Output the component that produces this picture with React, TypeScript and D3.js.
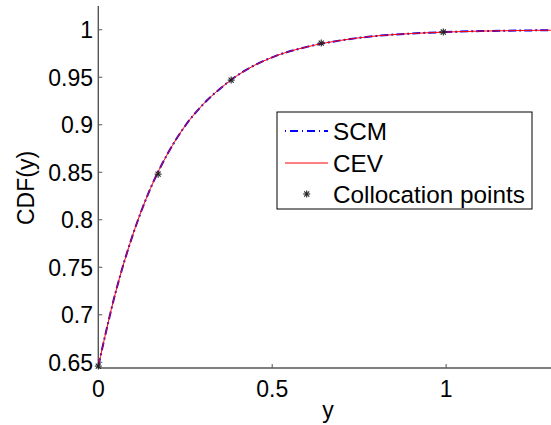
import React from "react";
import { scaleLinear, line, curveMonotoneX } from "d3";

// curve values
const gridY = [0, 0.05, 0.1, 0.15, 0.2, 0.25, 0.3, 0.35, 0.4, 0.5, 0.6, 0.7, 0.8, 0.9, 1.0, 1.1, 1.2, 1.3, 1.32];
const scmCdf = [0.646, 0.724, 0.785, 0.833, 0.87, 0.899, 0.921, 0.938, 0.952, 0.971, 0.982, 0.989, 0.9935, 0.996, 0.9976, 0.9986, 0.9991, 0.9995, 0.9995];
const cevCdf = [0.646, 0.724, 0.785, 0.833, 0.87, 0.899, 0.921, 0.938, 0.952, 0.971, 0.982, 0.989, 0.9935, 0.996, 0.9976, 0.9986, 0.9991, 0.9995, 0.9995];

const colY = [0, 0.172, 0.382, 0.641, 0.992];
const colCdf = [0.646, 0.848, 0.947, 0.986, 0.9976];

const xTicks = [0, 0.5, 1];
const yTicks = [0.65, 0.7, 0.75, 0.8, 0.85, 0.9, 0.95, 1];

const W = 551;
const H = 425;
const FONT = "'Liberation Sans', Arial, sans-serif";
const AXIS = "#555";

function Star({ x, y, r = 3.5 }: { x: number; y: number; r?: number }) {
  const d = r * 0.72;
  return (
    <g stroke="#222" strokeWidth={1.1}>
      <line x1={x - r} y1={y} x2={x + r} y2={y} />
      <line x1={x} y1={y - r} x2={x} y2={y + r} />
      <line x1={x - d} y1={y - d} x2={x + d} y2={y + d} />
      <line x1={x - d} y1={y + d} x2={x + d} y2={y - d} />
    </g>
  );
}

export default function App() {
  const x = scaleLinear().domain([0, 1.316]).range([98.3, 556]);
  const y = scaleLinear().domain([0.644, 1.025]).range([368, 6]);

  const mk = (vals: number[]) =>
    line<number>()
      .x((_, i) => x(gridY[i]))
      .y((d) => y(d))
      .curve(curveMonotoneX)(vals) || "";

  const fmt = (v: number) => String(+v.toFixed(2));
  const left = x(0);
  const bottom = y(0.644);

  // legend box
  const lx = 277, ly = 112, lw = 255, lh = 97;
  const rows = [131, 163, 194];

  return (
    <svg width={W} height={H} style={{ position: "absolute", left: 0, top: 0, background: "#fff" }} fontFamily={FONT}>
      <defs>
        <clipPath id="plot">
          <rect x={left} y={6} width={W - left} height={bottom - 6} />
        </clipPath>
      </defs>

      {/* axes */}
      <line x1={left} y1={6} x2={left} y2={bottom} stroke={AXIS} strokeWidth={1.4} />
      <line x1={left} y1={bottom} x2={W} y2={bottom} stroke={AXIS} strokeWidth={1.6} />
      {yTicks.map((t) => (
        <g key={"y" + t}>
          <line x1={left} x2={left + 4} y1={y(t)} y2={y(t)} stroke={AXIS} strokeWidth={1} />
          <text x={93} y={y(t)} dy="0.36em" textAnchor="end" fontSize={23} fill="#000">
            {fmt(t)}
          </text>
        </g>
      ))}
      {xTicks.map((t) => (
        <g key={"x" + t}>
          <line x1={x(t)} x2={x(t)} y1={bottom} y2={bottom - 4} stroke={AXIS} strokeWidth={1} />
          <text x={x(t)} y={397} textAnchor="middle" fontSize={23} fill="#000">
            {fmt(t)}
          </text>
        </g>
      ))}
      <text x={328} y={418} textAnchor="middle" fontSize={23}>y</text>
      <text transform="translate(34,188) rotate(-90)" textAnchor="middle" fontSize={23}>CDF(y)</text>

      {/* series */}
      <g clipPath="url(#plot)">
        <path d={mk(scmCdf)} fill="none" stroke="#0000ff" strokeWidth={2} strokeDasharray="8,3,2,3" />
        <path d={mk(cevCdf)} fill="none" stroke="#ff0000" strokeWidth={1} />
      </g>
      {colY.map((v, i) => (
        <Star key={i} x={x(v)} y={y(colCdf[i])} />
      ))}

      {/* legend */}
      <rect x={lx} y={ly} width={lw} height={lh} fill="#fff" stroke="#000" strokeWidth={1} />
      <line x1={285} x2={328} y1={rows[0]} y2={rows[0]} stroke="#0000ff" strokeWidth={2} strokeDasharray="1,4,8,4" />
      <line x1={285} x2={328} y1={rows[1]} y2={rows[1]} stroke="#ff0000" strokeWidth={1} />
      <Star x={306.7} y={rows[2]} />
      {["SCM", "CEV", "Collocation points"].map((s, i) => (
        <text key={s} x={333} y={rows[i]} dy="0.36em" fontSize={24.3}>
          {s}
        </text>
      ))}
    </svg>
  );
}
